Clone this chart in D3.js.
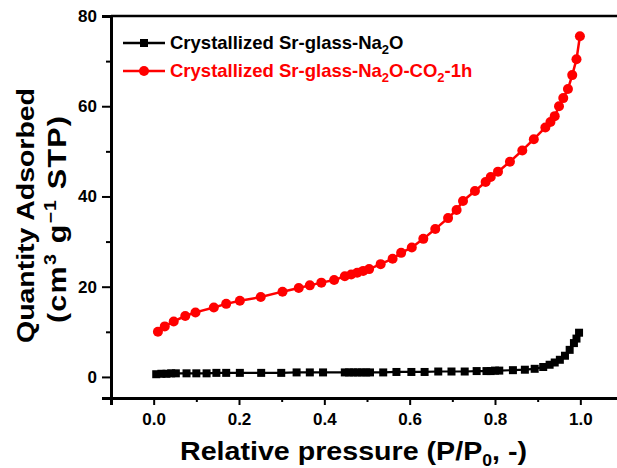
<!DOCTYPE html>
<html>
<head>
<meta charset="utf-8">
<script src="https://cdn.jsdelivr.net/npm/d3@7"></script>
<style>
  body { margin: 0; background: #fff; }
  svg { display: block; font-family: "Liberation Sans", Arial, sans-serif; font-weight: bold; }
</style>
</head>
<body>
<div id="chart"></div>
<script>
const seriesNames = ['Crystallized Sr-glass-Na2O', 'Crystallized Sr-glass-Na2O-CO2-1h'];

const pBlack = [0.006,0.018,0.030,0.041,0.052,0.077,0.100,0.124,0.147,0.170,0.202,0.252,0.299,0.335,0.366,0.397,0.448,0.458,0.468,0.478,0.488,0.498,0.507,0.538,0.569,0.604,0.635,0.667,0.698,0.729,0.757,0.780,0.790,0.800,0.810,0.842,0.870,0.893,0.913,0.928,0.940,0.952,0.964,0.975,0.985,0.991,0.997];
const qBlack = [0.6,0.7,0.7,0.8,0.8,0.8,0.8,0.8,0.9,0.9,0.9,0.9,0.9,1.0,1.0,1.0,1.0,1.0,1.0,1.0,1.0,1.0,1.0,1.0,1.1,1.1,1.1,1.2,1.2,1.2,1.3,1.3,1.3,1.4,1.4,1.5,1.6,1.8,2.2,2.7,3.2,3.8,4.7,6.0,7.5,8.5,9.8];

const pRed = [0.010,0.026,0.047,0.074,0.098,0.141,0.170,0.202,0.251,0.302,0.340,0.366,0.393,0.423,0.448,0.463,0.477,0.491,0.505,0.532,0.560,0.580,0.605,0.632,0.660,0.690,0.710,0.725,0.753,0.778,0.790,0.807,0.835,0.864,0.891,0.918,0.930,0.940,0.950,0.960,0.971,0.981,0.991,0.999];
const qRed = [10.0,11.2,12.3,13.5,14.3,15.4,16.2,16.9,17.7,18.9,19.7,20.3,20.9,21.5,22.3,22.7,23.1,23.5,23.9,25.0,26.2,27.5,28.7,30.6,32.8,35.2,37.0,39.0,41.2,43.2,44.3,45.5,47.7,50.2,52.7,55.3,56.5,57.8,60.0,61.8,63.8,66.9,70.4,75.5];

const xTicks = [0, 0.2, 0.4, 0.6, 0.8, 1.0];
const xMinor = [-0.1, 0.1, 0.3, 0.5, 0.7, 0.9, 1.1];
const yTicks = [0, 20, 40, 60, 80];
const yMinor = [10, 30, 50, 70];

const width = 617, height = 468;
const mLeft = 111, mTop = 16, plotW = 512, mBottom = 398;

const x = d3.scaleLinear().domain([-0.1, 1.1]).range([mLeft, mLeft + plotW]);
const y = d3.scaleLinear().domain([-4.67, 80]).range([mBottom, mTop]);

const svg = d3.select('#chart').append('svg')
  .attr('width', width)
  .attr('height', height);

// frame top line
svg.append('line')
  .attr('x1', mLeft).attr('x2', mLeft + plotW)
  .attr('y1', mTop).attr('y2', mTop)
  .attr('stroke', '#000').attr('stroke-width', 2.5);

// series
const black = pBlack.map((p, i) => ({ p, q: qBlack[i] }));
const red = pRed.map((p, i) => ({ p, q: qRed[i] }));
const line = d3.line().x(d => x(d.p)).y(d => y(d.q));

svg.append('path').datum(black)
  .attr('d', line).attr('fill', 'none')
  .attr('stroke', '#000').attr('stroke-width', 2.2);
svg.selectAll('.sq').data(black).enter().append('rect')
  .attr('x', d => x(d.p) - 4).attr('y', d => y(d.q) - 4)
  .attr('width', 8).attr('height', 8).attr('fill', '#000');

svg.append('path').datum(red)
  .attr('d', line).attr('fill', 'none')
  .attr('stroke', '#f00').attr('stroke-width', 2.5);
svg.selectAll('.dot').data(red).enter().append('circle')
  .attr('cx', d => x(d.p)).attr('cy', d => y(d.q))
  .attr('r', 5).attr('fill', '#f00');

// axes
svg.append('g')
  .attr('transform', `translate(0,${mBottom})`)
  .call(d3.axisBottom(x).tickValues(xTicks).tickSize(7).tickPadding(8).tickFormat(d3.format('.1f')));
svg.append('g')
  .attr('transform', `translate(0,${mBottom})`)
  .call(d3.axisBottom(x).tickValues(xMinor).tickSize(4).tickFormat(''))
  .select('.domain').remove();

svg.append('g')
  .attr('transform', `translate(${mLeft},0)`)
  .call(d3.axisLeft(y).tickValues(yTicks).tickSize(9).tickPadding(5).tickFormat(d3.format('d')));
svg.append('g')
  .attr('transform', `translate(${mLeft},0)`)
  .call(d3.axisLeft(y).tickValues(yMinor).tickSize(5).tickFormat(''))
  .select('.domain').remove();

svg.selectAll('.domain').attr('stroke-width', 3);
svg.selectAll('.tick line').attr('stroke-width', 2);
svg.selectAll('.tick text')
  .attr('font-size', 17).attr('font-family', '"Liberation Sans", Arial, sans-serif')
  .attr('font-weight', 'bold').attr('fill', '#000');

// axis titles
const xt = svg.append('text')
  .attr('x', 180).attr('y', 460)
  .attr('font-size', 26)
  .attr('textLength', 347).attr('lengthAdjust', 'spacingAndGlyphs');
xt.append('tspan').text('Relative pressure (P/P');
xt.append('tspan').attr('font-size', 16).attr('dy', 6).text('0');
xt.append('tspan').attr('dy', -6).text(', -)');

svg.append('text')
  .attr('transform', 'translate(34,343) rotate(-90)')
  .attr('font-size', 24)
  .attr('textLength', 255).attr('lengthAdjust', 'spacingAndGlyphs')
  .text('Quantity Adsorbed');
const yt2 = svg.append('text')
  .attr('transform', 'translate(66,323) rotate(-90) scale(1.22,1)')
  .attr('font-size', 25).attr('letter-spacing', 1);
yt2.append('tspan').text('(cm');
yt2.append('tspan').attr('font-size', 16).attr('dy', -10).text('3');
yt2.append('tspan').attr('dy', 10).text(' g');
yt2.append('tspan').attr('font-size', 16).attr('dy', -10).text('\u22121');
yt2.append('tspan').attr('dy', 10).text(' STP)');

// legend
const legendRows = [
  { name: seriesNames[0], color: '#000', shape: 'square', y: 43 },
  { name: seriesNames[1], color: '#f00', shape: 'circle', y: 71 }
];
legendRows.forEach(r => {
  svg.append('line')
    .attr('x1', 123).attr('x2', 165).attr('y1', r.y).attr('y2', r.y)
    .attr('stroke', r.color).attr('stroke-width', 2.5);
  if (r.shape === 'square') {
    svg.append('rect').attr('x', 140).attr('y', r.y - 4)
      .attr('width', 8).attr('height', 8).attr('fill', r.color);
  } else {
    svg.append('circle').attr('cx', 144).attr('cy', r.y).attr('r', 5).attr('fill', r.color);
  }
  const t = svg.append('text')
    .attr('x', 170).attr('y', r.y + 6)
    .attr('font-size', 18.5).attr('fill', r.color);
  // subscript the 2 in Na2O and CO2
  r.name.replace('Na2O', 'Na|2|O').replace('CO2', 'CO|2|').split('|').forEach((s, i) => {
    if (s === '2') {
      t.append('tspan').attr('font-size', 13).attr('dy', 5).text('2');
    } else if (s.length) {
      t.append('tspan').attr('dy', i === 0 ? 0 : -5).text(s);
    }
  });
});
</script>
</body>
</html>
